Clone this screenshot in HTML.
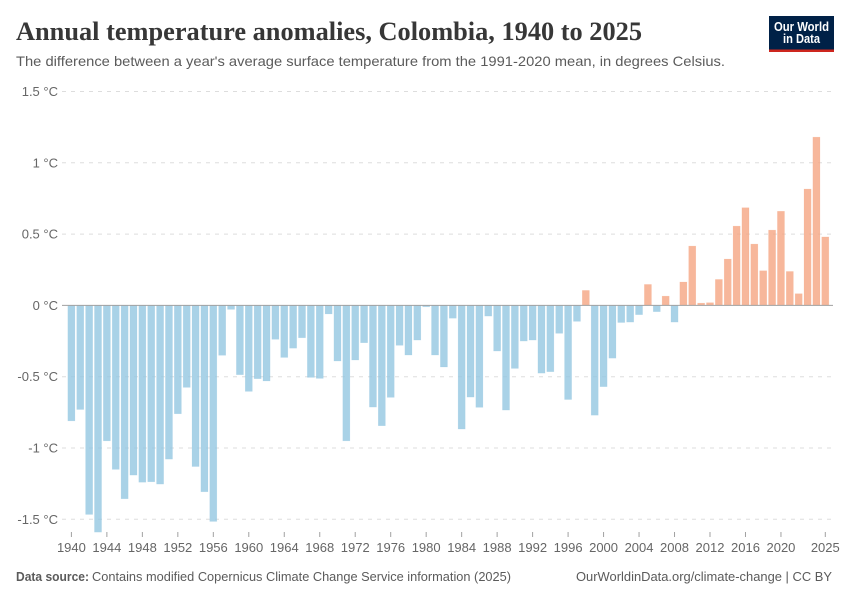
<!DOCTYPE html>
<html lang="en">
<head>
<meta charset="utf-8">
<title>Annual temperature anomalies, Colombia, 1940 to 2025</title>
<style>
  html, body { margin: 0; padding: 0; background: #fff; }
  svg { display: block; font-family: "Liberation Sans", sans-serif; }
  .tick { font-size: 13px; fill: #666; }
</style>
</head>
<body>
<svg id="chart" xmlns="http://www.w3.org/2000/svg" width="850" height="600" viewBox="0 0 850 600">
  <rect width="850" height="600" fill="#fff"/>
  <text x="16" y="40" font-family="'Liberation Serif', serif" font-weight="700" font-size="26" fill="#373737" textLength="626" lengthAdjust="spacingAndGlyphs">Annual temperature anomalies, Colombia, 1940 to 2025</text>
  <text x="16" y="66" font-size="14" fill="#5b5b5b" textLength="709" lengthAdjust="spacingAndGlyphs">The difference between a year's average surface temperature from the 1991-2020 mean, in degrees Celsius.</text>

  <g>
    <rect x="769" y="16" width="65" height="36" fill="#002147"/>
    <rect x="769" y="49.5" width="65" height="2.5" fill="#ce261e"/>
    <text x="774" y="31" font-size="12.5" font-weight="700" fill="#fff" textLength="55" lengthAdjust="spacingAndGlyphs">Our World</text>
    <text x="783" y="43.2" font-size="12.5" font-weight="700" fill="#fff" textLength="37" lengthAdjust="spacingAndGlyphs">in Data</text>
  </g>

  <g id="grid"></g>
  <g id="bars"></g>
  <g id="yLabels"></g>
  <g id="xAxis"></g>
  <line id="zeroLine" stroke="#a1a1a1" stroke-width="1"/>

  <text x="16" y="581" font-size="13" font-weight="700" fill="#5b5b5b" textLength="73" lengthAdjust="spacingAndGlyphs">Data source:</text>
  <text x="92" y="581" font-size="13" fill="#5b5b5b" textLength="419" lengthAdjust="spacingAndGlyphs">Contains modified Copernicus Climate Change Service information (2025)</text>
  <text x="576" y="581" font-size="13" fill="#5b5b5b" textLength="256" lengthAdjust="spacingAndGlyphs">OurWorldinData.org/climate-change | CC BY</text>
</svg>

<script>
const years = [1940,1941,1942,1943,1944,1945,1946,1947,1948,1949,
  1950,1951,1952,1953,1954,1955,1956,1957,1958,1959,
  1960,1961,1962,1963,1964,1965,1966,1967,1968,1969,
  1970,1971,1972,1973,1974,1975,1976,1977,1978,1979,
  1980,1981,1982,1983,1984,1985,1986,1987,1988,1989,
  1990,1991,1992,1993,1994,1995,1996,1997,1998,1999,
  2000,2001,2002,2003,2004,2005,2006,2007,2008,2009,
  2010,2011,2012,2013,2014,2015,2016,2017,2018,2019,
  2020,2021,2022,2023,2024,2025];
const anomalies = [-0.81,-0.73,-1.466,-1.59,-0.95,-1.15,-1.356,-1.19,-1.24,-1.237,
  -1.253,-1.078,-0.76,-0.575,-1.13,-1.307,-1.515,-0.35,-0.028,-0.486,
  -0.603,-0.514,-0.53,-0.238,-0.365,-0.30,-0.227,-0.505,-0.512,-0.06,
  -0.39,-0.95,-0.383,-0.262,-0.713,-0.844,-0.645,-0.28,-0.348,-0.243,
  -0.01,-0.348,-0.432,-0.09,-0.867,-0.643,-0.715,-0.075,-0.32,-0.734,
  -0.442,-0.25,-0.243,-0.475,-0.465,-0.196,-0.66,-0.112,0.105,-0.77,
  -0.57,-0.37,-0.12,-0.117,-0.065,0.147,-0.044,0.065,-0.117,0.164,
  0.416,0.016,0.019,0.182,0.325,0.556,0.685,0.43,0.243,0.528,
  0.66,0.238,0.082,0.816,1.18,0.48];
const yTicks = [1.5, 1, 0.5, 0, -0.5, -1, -1.5];
const xTicks = [1940,1944,1948,1952,1956,1960,1964,1968,1972,1976,1980,1984,1988,1992,1996,2000,2004,2008,2012,2016,2020,2025];

const SVG_NS = 'http://www.w3.org/2000/svg';
const plotLeft = 62, plotRight = 833;
const x0 = 71.4, x1 = 825.3, yZero = 305.4, yTop = 91.5;
const xFirst = years[0], xLast = years[years.length - 1];

function xScale(year) {
  return x0 + (year - xFirst) * (x1 - x0) / (xLast - xFirst);
}
function yScale(value) {
  return yZero - value * (yZero - yTop) / 1.5;
}
function make(tag, attrs) {
  const el = document.createElementNS(SVG_NS, tag);
  for (const k in attrs) el.setAttribute(k, attrs[k]);
  return el;
}

const gridG = document.getElementById('grid');
const yLabelG = document.getElementById('yLabels');
yTicks.forEach(function (v) {
  const y = yScale(v);
  if (v !== 0) {
    const line = make('line', { x1: plotLeft, x2: plotRight, y1: y, y2: y, stroke: '#dddddd', 'stroke-width': 1, 'stroke-dasharray': '4,5' });
    
    
    gridG.appendChild(line);
  }
  const label = make('text', { x: 58, y: y + 4.5, 'text-anchor': 'end', class: 'tick' });
  
  
  label.textContent = v + ' °C';
  yLabelG.appendChild(label);
});

const barG = document.getElementById('bars');
const barWidth = (x1 - x0) / (xLast - xFirst) * 0.8;
years.forEach(function (year, i) {
  const v = anomalies[i];
  const yv = yScale(v);
  const top = Math.min(yv, yZero);
  const h = Math.abs(yv - yZero);
  const positive = v >= 0;
  const bar = make('rect', {
    x: xScale(year) - barWidth / 2,
    y: top,
    width: barWidth,
    height: h,
    fill: positive ? '#f5a582' : '#94c7e1',
    'fill-opacity': 0.8,
    stroke: positive ? '#f5a582' : '#94c7e1',
    'stroke-opacity': 0.3,
    'stroke-width': 0.5
  });
  
  
  barG.appendChild(bar);
});

const xG = document.getElementById('xAxis');
xTicks.forEach(function (year) {
  const x = xScale(year);
  const tick = make('line', { x1: x, x2: x, y1: 532, y2: 537, stroke: '#a1a1a1', 'stroke-width': 1 });
  
  
  xG.appendChild(tick);
  const label = make('text', { x: x, y: 552, 'text-anchor': 'middle', class: 'tick' });
  
  
  label.textContent = String(year);
  xG.appendChild(label);
});

const zero = document.getElementById('zeroLine');
zero.setAttribute('x1', plotLeft);
zero.setAttribute('x2', plotRight);
zero.setAttribute('y1', yScale(0));
zero.setAttribute('y2', yScale(0));
</script>
</body>
</html>
